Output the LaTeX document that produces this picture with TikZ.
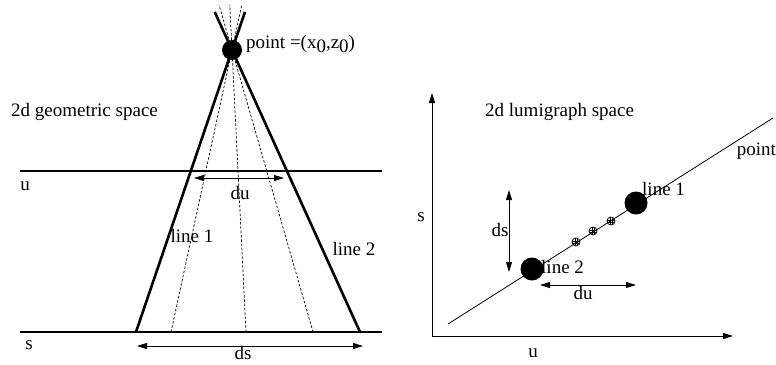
\documentclass[tikz,border=0pt]{standalone}
\usepackage{fontspec}
\setmainfont{Liberation Serif}
\usetikzlibrary{arrows.meta,calc}

\begin{document}
\begin{tikzpicture}[
  x=1pt, y=-1pt,
  lbl/.style={font=\fontsize{19}{22}\selectfont, inner sep=0pt},
  bigdot/.style={circle, fill, inner sep=0pt, minimum size=#1},
  smalldot/.style={circle, draw, line width=0.8pt, inner sep=0pt, minimum size=8pt,
    path picture={
      \draw[line width=0.4pt] ([xshift=-1.3pt]path picture bounding box.north) -- ([xshift=-1.3pt]path picture bounding box.south);
      \draw[line width=0.4pt] ([xshift=1.3pt]path picture bounding box.north) -- ([xshift=1.3pt]path picture bounding box.south);
      \draw[line width=0.4pt] ([yshift=-1.3pt]path picture bounding box.west) -- ([yshift=-1.3pt]path picture bounding box.east);
      \draw[line width=0.4pt] ([yshift=1.3pt]path picture bounding box.west) -- ([yshift=1.3pt]path picture bounding box.east);}},
  heavy/.style={line width=2.6pt},
  ray/.style={line width=0.7pt, dash pattern=on 2.5pt off 1.8pt},
  span/.style={{Triangle[length=10pt,width=6pt]}-{Triangle[length=10pt,width=6pt]}, line width=0.9pt},
  axis/.style={-{Triangle[length=10pt,width=6pt]}, line width=1pt}
]
  \useasboundingbox (0,0) rectangle (776,364);

  % geometric space
  \draw[line width=1.1pt] (20,171) -- (382,171);
  \draw[line width=1.1pt] (20,332) -- (382,332);
  \node[lbl] (u) at (25,186) {u};
  \node[lbl] (s) at (29,345) {s};
  \node[lbl, anchor=west] (geo) at (11,112) {2d geometric space};

  \node[bigdot=20pt] (pt) at (232,50) {};
  \node[lbl, anchor=west] (ptlbl) at (246,44) {point =(x\raisebox{-0.45ex}{0},z\raisebox{-0.45ex}{0})};

  \coordinate (l1) at (136,332);
  \coordinate (l2) at (360,332);
  \draw[heavy] (l1) -- ($(l1)!1.135!(pt.center)$);
  \draw[heavy] (l2) -- ($(l2)!1.135!(pt.center)$);

  \coordinate (r1) at (171,332);
  \coordinate (r2) at (246,332);
  \coordinate (r3) at (313,332);
  \draw[ray] (r1) -- ($(r1)!1.16!(pt.center)$);
  \draw[ray] (r2) -- ($(r2)!1.16!(pt.center)$);
  \draw[ray] (r3) -- ($(r3)!1.16!(pt.center)$);

  \node[lbl] (line1) at (192,236) {line 1};
  \node[lbl] (line2) at (354,249) {line 2};

  \coordinate (dua) at (194,178);
  \coordinate (dub) at (284,178);
  \draw[span] (dua) -- (dub);
  \node[lbl] (du) at (240,193) {du};

  \coordinate (dsa) at (137,346);
  \coordinate (dsb) at (363,346);
  \draw[span] (dsa) -- (dsb);
  \node[lbl, anchor=base] (ds) at (243,359.5) {ds};

  % lumigraph space
  \coordinate (o) at (432,336);
  \draw[axis] (o) -- (432,93);
  \draw[axis] (o) -- (733,336);
  \node[lbl] (s2) at (421,217) {s};
  \node[lbl] (u2) at (533,353) {u};
  \node[lbl, anchor=west] (lumi) at (485,112) {2d lumigraph space};

  \coordinate (pa) at (448,324);
  \coordinate (pb) at (773,118);
  \draw[line width=0.8pt] (pa) -- (pb);
  \node[lbl, anchor=east] (point) at (776,151) {point};

  \node[bigdot=23pt] (d2) at (532,269) {};
  \node[bigdot=23pt] (d1) at (636,203) {};
  \node[smalldot] at (576,242) {};
  \node[smalldot] at (593,231) {};
  \node[smalldot] at (611,221) {};
  \node[lbl, anchor=west] (line1b) at (642,189) {line 1};
  \node[lbl, anchor=west] (line2b) at (541,267) {line 2};

  \coordinate (dsc) at (509,190);
  \coordinate (dsd) at (509,272);
  \draw[span] (dsc) -- (dsd);
  \node[lbl] (ds2) at (500,230) {ds};

  \coordinate (duc) at (540,285);
  \coordinate (dud) at (636,285);
  \draw[span] (duc) -- (dud);
  \node[lbl] (du2) at (583,293) {du};
\end{tikzpicture}
\end{document}
